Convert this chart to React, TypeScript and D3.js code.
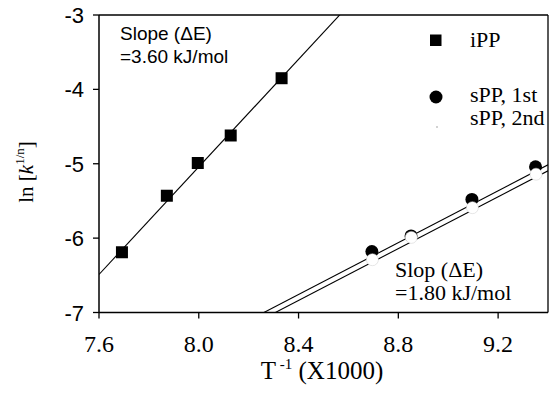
import React from "react";
import * as d3 from "d3";

// ---- data ----
const iPPx = [7.692, 7.872, 7.996, 8.128, 8.332];
const iPPy = [-6.19, -5.43, -4.99, -4.62, -3.85];
const sPP1x = [8.694, 8.851, 9.095, 9.35];
const sPP1y = [-6.18, -5.97, -5.48, -5.04];
const sPP2x = [8.696, 8.852, 9.097, 9.352];
const sPP2y = [-6.29, -5.99, -5.59, -5.14];
// linear fits: [intercept, slope]
const fitIPP = [-33.97, 3.616];
const fitSPP1 = [-21.399, 1.743];
const fitSPP2 = [-21.479, 1.743];
const xTicks = [7.6, 8.0, 8.4, 8.8, 9.2];
const yTicks = [-3, -4, -5, -6, -7];
const xDomain = [7.6, 9.4];
const yDomain = [-7, -3];

const W = 550, H = 396;
const L = 99, R = 548, T = 15, B = 312.5;

export default function App() {
  const x = d3.scaleLinear().domain(xDomain).range([L, R]);
  const y = d3.scaleLinear().domain(yDomain).range([B, T]);
  const fitLine = (f: number[]) => {
    const g = d3.line<number>().x((v) => x(v)).y((v) => y(f[0] + f[1] * v));
    return g(xDomain) as string;
  };
  const serif = "Liberation Serif";
  const sans = "Liberation Sans";
  return (
    <svg width={W} height={H} style={{ position: "absolute", left: 0, top: 0, background: "#fff" }}>
      <defs>
        <clipPath id="plot">
          <rect x={L} y={T} width={R - L} height={B - T} />
        </clipPath>
      </defs>
      <rect x={0} y={0} width={W} height={H} fill="#fff" />
      {/* frame */}
      <line x1={L} y1={T} x2={R} y2={T} stroke="#000" strokeWidth={1.3} />
      <line x1={R} y1={T} x2={R} y2={B} stroke="#000" strokeWidth={1.3} />
      <line x1={L} y1={T} x2={L} y2={B} stroke="#000" strokeWidth={1.5} />
      <line x1={L} y1={B} x2={R} y2={B} stroke="#000" strokeWidth={1.5} />
      {/* y ticks */}
      {yTicks.map((t) => (
        <g key={"y" + t}>
          <line x1={L - 6} x2={L} y1={y(t)} y2={y(t)} stroke="#000" strokeWidth={1.3} />
          <text x={L - 15} y={y(t) + 8} fontFamily={sans} fontSize={22} textAnchor="end" fill="#000">
            {String(t)}
          </text>
        </g>
      ))}
      {/* x ticks */}
      {xTicks.map((t) => (
        <g key={"x" + t}>
          <line x1={x(t)} x2={x(t)} y1={B} y2={B + 6} stroke="#000" strokeWidth={1.3} />
          <text x={x(t)} y={352} fontFamily={serif} fontSize={24} textAnchor="middle" fill="#000">
            {t.toFixed(1)}
          </text>
        </g>
      ))}
      {/* axis titles */}
      <text x={322} y={379} fontFamily={serif} fontSize={25} textAnchor="middle" fill="#000">
        T<tspan fontSize={15} dy={-10}> -1</tspan>
        <tspan dy={10}> (X1000)</tspan>
      </text>
      <text transform="translate(33,172) rotate(-90)" fontFamily={serif} fontSize={21} textAnchor="middle" fill="#000">
        ln [<tspan fontStyle="italic">k</tspan>
        <tspan fontSize={13} dy={-9}>1/n</tspan>
        <tspan dy={9}>]</tspan>
      </text>
      {/* fit lines */}
      <g clipPath="url(#plot)" fill="none" stroke="#000" strokeWidth={1.1}>
        <path d={fitLine(fitIPP)} />
        <path d={fitLine(fitSPP1)} />
        <path d={fitLine(fitSPP2)} />
      </g>
      {/* markers */}
      {iPPx.map((v, i) => (
        <rect key={"s" + i} x={x(v) - 6} y={y(iPPy[i]) - 6} width={12} height={12} fill="#000" />
      ))}
      {sPP1x.map((v, i) => (
        <circle key={"c1" + i} cx={x(v)} cy={y(sPP1y[i])} r={6.5} fill="#000" />
      ))}
      {sPP2x.map((v, i) => (
        <circle key={"c2" + i} cx={x(v)} cy={y(sPP2y[i])} r={6} fill="#fff" stroke="#ccc" strokeWidth={0.5} />
      ))}
      {/* annotations */}
      <text x={120} y={40} fontFamily={sans} fontSize={19} fill="#000">Slope (ΔE)</text>
      <text x={120} y={63} fontFamily={sans} fontSize={19} fill="#000">=3.60 kJ/mol</text>
      <text x={395} y={277} fontFamily={serif} fontSize={22} fill="#000">Slop (ΔE)</text>
      <text x={395} y={300} fontFamily={serif} fontSize={22} fill="#000">=1.80 kJ/mol</text>
      {/* legend */}
      <rect x={430} y={34.5} width={11.5} height={11.5} fill="#000" />
      <text x={470} y={47} fontFamily={serif} fontSize={22} fill="#000">iPP</text>
      <circle cx={436} cy={97} r={6.5} fill="#000" />
      <text x={470} y={102} fontFamily={serif} fontSize={22} fill="#000">sPP, 1st</text>
      <circle cx={437} cy={127} r={0.8} fill="#999" />
      <text x={470} y={125} fontFamily={serif} fontSize={22} fill="#000">sPP, 2nd</text>
    </svg>
  );
}
